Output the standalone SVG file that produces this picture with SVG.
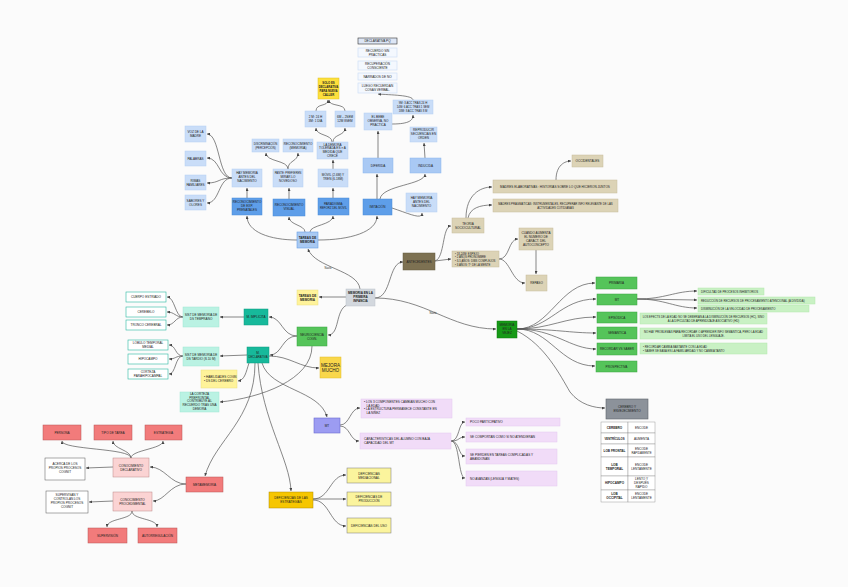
<svg xmlns="http://www.w3.org/2000/svg" width="848" height="587" viewBox="0 0 848 587">
<defs>
<marker id="ar" markerUnits="userSpaceOnUse" markerWidth="3" markerHeight="3" refX="3" refY="1.5" orient="auto"><path d="M0,0 L3,1.5 L0,3 z" fill="#444"/></marker>
<style>
text{font-family:"Liberation Sans",Arial,sans-serif;font-size:3.1px;fill:#222;text-anchor:middle}
.l{text-anchor:start}
.b{font-weight:bold}
.s{font-size:2.8px}
.lb{fill:#c9ddf8;stroke:#b4cff2;stroke-width:0.5}
.mb{fill:#a9c9f4;stroke:#8ab6ee;stroke-width:0.5}
.db{fill:#5e9ee9;stroke:#4a8ad8;stroke-width:0.5}
.wb{fill:#f4f8fe;stroke:#c8dbf5;stroke-width:0.6}
.tw{fill:#fff;stroke:#2bb8a2;stroke-width:0.6}
.tl{fill:#baf2e3;stroke:#9ee6d2;stroke-width:0.5}
.ts{fill:#17b99b;stroke:#0f9a80;stroke-width:0.5}
.gr{fill:#55c45a;stroke:#3aa540;stroke-width:0.5}
.lg{fill:#c9f1c4;stroke:#b2e8ad;stroke-width:0.5}
.be{fill:#dcd3b6;stroke:#c6bc9c;stroke-width:0.5}
.pu{fill:#f1dcf8;stroke:#e4c8f0;stroke-width:0.5}
.ye{fill:#fff39a;stroke:#eadf80;stroke-width:0.5}
.yd{fill:#fbf49d;stroke:#777;stroke-width:0.5}
.re{fill:#f27b7b;stroke:#b85555;stroke-width:0.5}
.pk{fill:#fbd3d3;stroke:#b88;stroke-width:0.5}
.wh{fill:#fff;stroke:#555;stroke-width:0.5}
.c path{fill:none;stroke:#555;stroke-width:0.7;marker-end:url(#ar)}
.tb{fill:#fff;stroke:#888;stroke-width:0.4}
</style>
</defs>
<rect width="848" height="587" fill="#fbfbfb"/>

<g id="connectors" class="c">
<path d="M297,240 C270,240 247,232 247,216"/>
<path d="M305,232 C305,225 289,225 289,217"/>
<path d="M310,232 C310,225 333,225 333,216"/>
<path d="M318,240 C350,240 377,232 377,216"/>
<path d="M247,198 L247,188"/>
<path d="M232,178 C218,178 220,134 207,134"/>
<path d="M232,178 C218,178 220,158 207,158"/>
<path d="M232,178 C218,178 220,183 207,183"/>
<path d="M232,178 C218,178 220,203 207,203"/>
<path d="M289,199 L289,188"/>
<path d="M288,169 C288,160 266,162 266,153"/>
<path d="M288,169 C288,160 298,162 298,153"/>
<path d="M333,198 L333,188"/>
<path d="M333,169 L333,160"/>
<path d="M332,142 C332,134 316,136 316,128"/>
<path d="M333,142 C333,134 345,136 345,128"/>
<path d="M316,111 C316,103 328,107 328,100"/>
<path d="M345,111 C345,103 329,107 329,100"/>
<path d="M377,199 L377,174"/>
<path d="M380,199 C382,185 425,185 425,174"/>
<path d="M392,208 C410,214 422,220 422,213"/>
<path d="M378,158 L378,131"/>
<path d="M392,124 C410,124 413,120 413,115"/>
<path d="M413,100 C413,95 390,95 378,94"/>
<path d="M425,158 L424,143"/>
<path d="M360,289 C358,270 315,268 308,249"/>
<path d="M346,297 L319,297"/>
<path d="M347,305 C335,310 340,335 328,335"/>
<path d="M375,298 C392,298 388,262 403,262"/>
<path d="M375,298 C425,298 450,329 496,329"/>
<path d="M435,261 C445,258 442,226 451,226"/>
<path d="M435,261 L451,259"/>
<path d="M466,218 C466,195 480,187 492,187"/>
<path d="M468,218 C470,208 480,205 492,205"/>
<path d="M556,180 C556,165 565,161 571,161"/>
<path d="M499,259 C510,259 508,239 518,239"/>
<path d="M499,259 C510,259 512,283 525,283"/>
<path d="M536,250 L536,274"/>
<path d="M517,329 C550,329 560,283 595,283"/>
<path d="M517,329 C550,329 560,299 596,299"/>
<path d="M517,329 C550,329 565,317 596,317"/>
<path d="M517,329 C555,329 570,333 596,333"/>
<path d="M517,329 C555,329 570,349 596,349"/>
<path d="M517,329 C550,329 560,366 595,366"/>
<path d="M517,331 C545,345 560,375 570,392 C580,405 595,408 605,408"/>
<path d="M637,299 C665,299 675,291 697,291"/>
<path d="M637,299 L697,300"/>
<path d="M637,299 C665,299 675,308 697,308"/>
<path d="M297,336 C282,336 282,317 269,317"/>
<path d="M297,336 C282,336 282,355 270,355"/>
<path d="M312,346 C312,380 260,398 220,402"/>
<path d="M244,317 L220,317"/>
<path d="M183,317 C175,317 175,297 167,297"/>
<path d="M183,317 C175,317 175,312 167,312"/>
<path d="M183,317 C175,317 175,325 167,325"/>
<path d="M247,355 L220,356"/>
<path d="M183,356 C175,356 176,345 169,345"/>
<path d="M183,356 C175,356 176,359 169,359"/>
<path d="M183,356 C175,356 176,374 169,374"/>
<path d="M249,363 C246,372 245,380 238,381"/>
<path d="M269,356 C290,356 300,368 319,368"/>
<path d="M262,363 C270,390 320,390 327,417"/>
<path d="M255,363 C255,420 215,440 205,476"/>
<path d="M258,363 C262,420 290,460 291,491"/>
<path d="M340,425 C350,425 350,408 360,408"/>
<path d="M340,426 C350,426 350,441 359,441"/>
<path d="M451,441 C460,441 458,422 465,422"/>
<path d="M451,441 C460,441 458,437 465,437"/>
<path d="M451,441 C460,441 458,456 465,456"/>
<path d="M451,441 C460,441 458,478 465,478"/>
<path d="M313,499 C330,499 330,475 346,475"/>
<path d="M313,499 L346,499"/>
<path d="M313,500 C330,500 330,526 346,526"/>
<path d="M186,484 C170,484 165,467 150,467"/>
<path d="M186,484 C170,484 165,501 153,501"/>
<path d="M113,467 L86,468"/>
<path d="M131,458 C131,448 62,450 62,441"/>
<path d="M131,458 C131,450 113,449 113,441"/>
<path d="M131,458 C131,450 163,449 163,441"/>
<path d="M113,501 L89,502"/>
<path d="M132,511 C132,520 107,518 107,527"/>
<path d="M132,511 C132,520 157,518 157,527"/>
</g>
<g id="conn-labels">
<text x="328" y="268.5" style="font-size:2.6px">Navío</text>
<text x="433" y="314" style="font-size:2.6px">Navío</text>
</g>

<g id="n-declpq"><rect x="358" y="38" width="39" height="6" fill="#dde6f5" stroke="#333" stroke-width="0.6"/><text x="377.5" y="42.1">DECLARATIVA PQ</text></g>
<g id="n-recsin"><rect class="wb" x="358" y="48" width="39" height="9"/><text x="377.5" y="51.6">RECUERDO SIN</text><text x="377.5" y="55.6">PRÁCTICAS</text></g>
<g id="n-recup"><rect class="wb" x="358" y="61" width="39" height="9"/><text x="377.5" y="64.6">RECUPERACIÓN</text><text x="377.5" y="68.6">CONSCIENTE</text></g>
<g id="n-narr"><rect class="wb" x="358" y="73" width="39" height="7"/><text x="377.5" y="77.6">NARRADOS DE NO</text></g>
<g id="n-luego"><rect class="wb" x="358" y="83" width="39" height="10"/><text x="377.5" y="87.1">LUEGO RECUERDAN</text><text x="377.5" y="91.1">COSAS VERBAL.</text></g>
<g id="n-solo"><rect x="318" y="78" width="21" height="21" fill="#fde03c" stroke="#e0c020" stroke-width="0.5"/><text class="b s" x="328.5" y="83.6">SOLO ES</text><text class="b s" x="328.5" y="87.6">DECLARATIVA</text><text class="b s" x="328.5" y="91.6">PARA NUEVA</text><text class="b s" x="328.5" y="95.6">CALLER</text></g>
<g id="n-2m"><rect class="lb" x="305" y="111" width="21" height="16"/><text x="315.5" y="118.1">2 M: 24 H</text><text x="315.5" y="122.1">3M: 1 DÍA</text></g>
<g id="n-6m"><rect class="lb" x="335" y="111" width="20" height="16"/><text x="345" y="118.1">6M – 2SEM</text><text x="345" y="122.1">12M 8SEM</text></g>
<g id="n-bebe"><rect class="lb" x="364" y="113" width="28" height="17"/><text x="378" y="117.6">EL BEBE</text><text x="378" y="121.6">OBSERVA, NO</text><text x="378" y="125.6">PRÁCTICA</text></g>
<g id="n-9m"><rect class="lb" x="393" y="100" width="40" height="14"/><text class="s" x="413" y="103.6">9M: 3 ACC TRAS 24 H</text><text class="s" x="413" y="107.6">14M: 6 ACC TRAS 1 SEM</text><text class="s" x="413" y="111.6">18M: 8 ACC TRAS 8 M</text></g>
<g id="n-reprod"><rect class="lb" x="410" y="127" width="27" height="15"/><text x="423.5" y="130.6">REPRODUCIR</text><text x="423.5" y="134.6">SECUENCIAS EN</text><text x="423.5" y="138.6">ORDEN</text></g>
<g id="n-discrim"><rect class="lb" x="252" y="139" width="27" height="13"/><text class="s" x="265.5" y="144.6">DISCRIMINACIÓN</text><text class="s" x="265.5" y="148.6">(PERCEPCIÓN)</text></g>
<g id="n-recmem"><rect class="lb" x="283" y="139" width="30" height="13"/><text x="298" y="144.6">RECONOCIMIENTO</text><text x="298" y="148.6">(MEMORIA)</text></g>
<g id="n-demora"><rect class="lb" x="317" y="142" width="31" height="17"/><text x="332.5" y="145.6">LA DEMORA</text><text x="332.5" y="149.4">TOLERADA ES &gt; A</text><text x="332.5" y="153.2">MEDIDA QUE</text><text x="332.5" y="157">CRECE</text></g>
<g id="n-haymem1"><rect class="lb" x="232" y="169" width="30" height="18"/><text x="247" y="174.1">HAY MEMORIA</text><text x="247" y="178.1">ANTES DEL</text><text x="247" y="182.1">NACIMIENTO</text></g>
<g id="n-pante"><rect class="lb" x="273" y="169" width="30" height="18"/><text class="s" x="288" y="174.1">PANTE: PREFIEREN</text><text x="288" y="178.1">MIRAR LO</text><text x="288" y="182.1">NOVEDOSO</text></g>
<g id="n-movil"><rect class="lb" x="318" y="169" width="30" height="18"/><text x="333" y="176.1">MÓVIL (2-6M) Y</text><text x="333" y="180.1">TREN (6-18M)</text></g>
<g id="n-diferida"><rect class="mb" x="363" y="158" width="30" height="15"/><text x="378" y="166.6">DIFERIDA</text></g>
<g id="n-inducida"><rect class="mb" x="410" y="158" width="31" height="15"/><text x="425.5" y="166.6">INDUCIDA</text></g>
<g id="n-recexp"><rect class="db" x="232" y="198" width="30" height="17"/><text x="247" y="202.6">RECONOCIMIENTO</text><text x="247" y="206.6">DE EXP.</text><text x="247" y="210.6">PRENATALES</text></g>
<g id="n-recvis"><rect class="db" x="273" y="199" width="32" height="17"/><text x="289" y="205.6">RECONOCIMIENTO</text><text x="289" y="209.6">VISUAL</text></g>
<g id="n-paradigma"><rect class="db" x="318" y="198" width="31" height="17"/><text x="333.5" y="204.6">PARADIGMA:</text><text class="s" x="333.5" y="208.6">REFORZ DEL MÓVIL</text></g>
<g id="n-imitacion"><rect class="db" x="363" y="199" width="29" height="16"/><text x="377.5" y="208.1">IMITACIÓN</text></g>
<g id="n-haymem2"><rect class="lb" x="406" y="193" width="31" height="19"/><text x="421.5" y="198.6">HAY MEMORIA</text><text x="421.5" y="202.6">ANTES DEL</text><text x="421.5" y="206.6">NACIMIENTO</text></g>
<g id="n-voz"><rect class="lb" x="185" y="126" width="21" height="16"/><text x="195.5" y="133.1">VOZ DE LA</text><text x="195.5" y="137.1">MADRE</text></g>
<g id="n-palabras"><rect class="lb" x="185" y="151" width="21" height="15"/><text x="195.5" y="159.6">PALABRAS</text></g>
<g id="n-rimas"><rect class="lb" x="185" y="175" width="21" height="15"/><text x="195.5" y="181.6">RIMAS</text><text x="195.5" y="185.6">FAMILIARES</text></g>
<g id="n-sabores"><rect class="lb" x="185" y="195" width="21" height="15"/><text x="195.5" y="201.6">SABORES Y</text><text x="195.5" y="205.6">OLORES</text></g>
<g id="n-tareas1"><rect x="297" y="232" width="21" height="16" fill="#a9c9f2" stroke="#6aa0e8" stroke-width="0.6"/><text class="b" x="307.5" y="239.1">TAREAS DE</text><text class="b" x="307.5" y="243.1">MEMORIA</text></g>

<g id="n-mpi"><rect x="346" y="289" width="29" height="17" fill="#d3d8de" stroke="#bcc2ca" stroke-width="0.5"/><text class="b" x="360.5" y="293.6">MEMORIA EN LA</text><text class="b" x="360.5" y="297.6">PRIMERA</text><text class="b" x="360.5" y="301.6">INFANCIA</text></g>
<g id="n-tareas2"><rect class="ye" x="297" y="290" width="21" height="15"/><text class="b" x="307.5" y="296.6">TAREAS DE</text><text class="b" x="307.5" y="300.6">MEMORIA</text></g>

<g id="n-antec"><rect x="403" y="253" width="32" height="17" fill="#7d7152" stroke="#655b40" stroke-width="0.5"/><text x="419" y="262.6">ANTECEDENTES</text></g>
<g id="n-occ"><rect class="be" x="572" y="155" width="31" height="12"/><text x="587.5" y="162.1">OCCIDENTALES</text></g>
<g id="n-melab"><rect class="be" x="493" y="180" width="124" height="13"/><text x="555" y="187.6">MADRES ELABORATIVAS : HISTORIAS SOBRE LO QUE HICIERON JUNTOS</text></g>
<g id="n-mprag"><rect class="be" x="493" y="199" width="125" height="13"/><text class="s" x="555.5" y="204.6">MADRES PRAGMÁTICAS: INSTRUMENTALES, RECUPERAR INFO RELEVANTE DE LAS</text><text class="s" x="555.5" y="208.6">ACTIVIDADES COTIDIANAS</text></g>
<g id="n-teoria"><rect class="be" x="452" y="218" width="32" height="15"/><text x="468" y="224.6">TEORÍA</text><text x="468" y="228.6">SOCIOCULTURAL</text></g>
<g id="n-list"><rect class="be" x="452" y="251" width="47" height="16"/><text class="l s" x="455" y="254.8">• 18-24M: ESPEJO</text><text class="l s" x="455" y="258.4">• 2 AÑOS:PRONOMBRE</text><text class="l s" x="455" y="262">• 3-5 AÑOS: DIBS COMPLEJOS</text><text class="l s" x="455" y="265.6">• 3 AÑOS: Tª DE LA MENTE</text></g>
<g id="n-cuando"><rect class="be" x="519" y="228" width="34" height="22"/><text x="536" y="233.6">CUANDO AUMENTA</text><text x="536" y="237.6">EL NÚMERO DE</text><text x="536" y="241.6">CARACT. DEL</text><text x="536" y="245.6">AUTOCONCEPTO</text></g>
<g id="n-repaso"><rect class="be" x="526" y="275" width="21" height="16"/><text x="536.5" y="284.1">REPASO</text></g>

<g id="n-vejez"><rect x="497" y="321" width="20" height="17" fill="#169a16" stroke="#0d7a0d" stroke-width="0.5"/><text x="507" y="325.6">MEMORIA</text><text x="507" y="329.6">EN LA</text><text x="507" y="333.6">VEJEZ</text></g>
<g id="n-primaria"><rect class="gr" x="596" y="277" width="41" height="12"/><text x="616.5" y="284.1">PRIMARIA</text></g>
<g id="n-mtv"><rect class="gr" x="597" y="294" width="40" height="11"/><text x="617" y="300.6">MT</text></g>
<g id="n-episodica"><rect class="gr" x="597" y="312" width="40" height="11"/><text x="617" y="318.6">EPISÓDICA</text></g>
<g id="n-semantica"><rect class="gr" x="597" y="327" width="40" height="12"/><text x="617" y="334.1">SEMÁNTICA</text></g>
<g id="n-recsab"><rect class="gr" x="597" y="343" width="40" height="12"/><text x="617" y="350.1">RECORDAR VS SABER</text></g>
<g id="n-prosp"><rect class="gr" x="596" y="361" width="41" height="11"/><text x="616.5" y="367.6">PROSPECTIVA</text></g>
<g id="n-dific"><rect class="lg" x="698" y="288" width="66" height="7"/><text class="l s" x="701" y="292.5">DIFICULTAD DE PROCESOS INHIBITORIOS</text></g>
<g id="n-reduc"><rect class="lg" x="698" y="297" width="117" height="7"/><text class="l s" x="701" y="301.5">REDUCCIÓN DE RECURSOS DE PROCESAMIENTO ATENCIONAL (A DIVIDIDA)</text></g>
<g id="n-dismin"><rect class="lg" x="698" y="305" width="111" height="7"/><text class="l s" x="701" y="309.5">DISMINUCIÓN DE LA VELOCIDAD DE PROCESAMIENTO</text></g>
<g id="n-efects"><rect class="lg" x="640" y="313" width="127" height="11"/><text class="s" x="703.5" y="317.6">LOS EFECTS DE LA EDAD NO SE DEBERIAN A LA DISMINUCIÓN DE RECURSOS (HC), SINO</text><text class="s" x="703.5" y="321.6">A LA DIFICULTAD DE APRENDIZAJE ASOCIATIVO (HD)</text></g>
<g id="n-nohay"><rect class="lg" x="640" y="328" width="127" height="11"/><text class="s" x="703.5" y="332.6">NO HAY PROBLEMAS PARA RECORDAR O APRENDER INFO SEMÁNTICA, PERO LA EDAD</text><text class="s" x="703.5" y="336.6">LIMITA EL USO DEL LENGUAJE.</text></g>
<g id="n-recbul"><rect class="lg" x="640" y="343" width="127" height="11"/><text class="l s" x="643" y="347.6">• RECORDAR CAMBIA BASTANTE CON LA EDAD</text><text class="l s" x="643" y="351.6">• SABER SE BASA EN LA FAMILIARIDAD Y NO CAMBIA TANTO</text></g>
<g id="n-cerebro"><rect x="606" y="399" width="42" height="20" fill="#8c929a" stroke="#5f646b" stroke-width="0.6"/><text x="627" y="408.1">CEREBRO Y</text><text x="627" y="412.1">ENVEJECIMIENTO</text></g>
<g id="n-tabla">
<rect class="tb" x="601" y="422" width="27" height="11"/><rect class="tb" x="628" y="422" width="27" height="11"/>
<rect class="tb" x="601" y="433" width="27" height="11"/><rect class="tb" x="628" y="433" width="27" height="11"/>
<rect class="tb" x="601" y="444" width="27" height="13"/><rect class="tb" x="628" y="444" width="27" height="13"/>
<rect class="tb" x="601" y="457" width="27" height="19"/><rect class="tb" x="628" y="457" width="27" height="19"/>
<rect class="tb" x="601" y="476" width="27" height="14"/><rect class="tb" x="628" y="476" width="27" height="14"/>
<rect class="tb" x="601" y="490" width="27" height="12"/><rect class="tb" x="628" y="490" width="27" height="12"/>
<text class="b" x="614.5" y="428.6">CEREBRO</text><text x="641.5" y="428.6">ENCODE</text>
<text class="b s" x="614.5" y="439.6">VENTRÍCULOS</text><text x="641.5" y="439.6">AUMENTA</text>
<text class="b" x="614.5" y="451.6">LOB FRONTAL</text><text x="641.5" y="449.6">ENCODE</text><text class="s" x="641.5" y="453.6">RÁPIDAMENTE</text>
<text class="b" x="614.5" y="465.6">LOB</text><text class="b" x="614.5" y="469.6">TEMPORAL</text><text x="641.5" y="465.6">ENCODE</text><text x="641.5" y="469.6">LENTAMENTE</text>
<text class="b" x="614.5" y="484.1">HIPOCAMPO</text><text x="641.5" y="480.1">LENTO Y</text><text x="641.5" y="484.1">DESPUÉS</text><text x="641.5" y="488.1">RÁPIDO</text>
<text class="b" x="614.5" y="495.1">LOB</text><text class="b" x="614.5" y="499.1">OCCIPITAL</text><text x="641.5" y="495.1">ENCODE</text><text x="641.5" y="499.1">LENTAMENTE</text>
</g>

<g id="n-cuerpo"><rect class="tw" x="126" y="292" width="40" height="10"/><text x="146" y="298.1">CUERPO ESTRIADO</text></g>
<g id="n-cerebelo"><rect class="tw" x="126" y="307" width="40" height="10"/><text x="146" y="313.1">CEREBELO</text></g>
<g id="n-tronco"><rect class="tw" x="126" y="320" width="40" height="10"/><text x="146" y="326.1">TRONCO CEREBRAL</text></g>
<g id="n-sistemp"><rect class="tl" x="183" y="307" width="36" height="20"/><text x="201" y="316.1">SIST DE MEMORIA DE</text><text x="201" y="320.1">DS TEMPRANO</text></g>
<g id="n-mimpl"><rect class="ts" x="244" y="309" width="24" height="16"/><text x="256" y="318.1">M. IMPLÍCITA</text></g>
<g id="n-neuro"><rect class="gr" x="297" y="327" width="30" height="19"/><text x="312" y="335.6">NEUROCIENCIA</text><text x="312" y="339.6">COGN.</text></g>
<g id="n-lobulo"><rect class="tw" x="128" y="340" width="40" height="10"/><text x="148" y="344.1">LÓBULO TEMPORAL</text><text x="148" y="348.1">MEDIAL</text></g>
<g id="n-hipo"><rect class="tw" x="128" y="354" width="40" height="10"/><text x="148" y="360.1">HIPOCAMPO</text></g>
<g id="n-parahipo"><rect class="tw" x="128" y="369" width="40" height="10"/><text x="148" y="373.1">CORTEZA</text><text x="148" y="377.1">PARAHIPOCAMPAL</text></g>
<g id="n-sistard"><rect class="tl" x="183" y="347" width="36" height="19"/><text x="201" y="355.6">SIST DE MEMORIA DE</text><text x="201" y="359.6">DS TARDÍO (8-10 M)</text></g>
<g id="n-mdecl"><rect class="ts" x="247" y="347" width="22" height="16"/><text x="258" y="354.1">M.</text><text class="s" x="258" y="358.1">DECLARATIVA</text></g>
<g id="n-habil"><rect class="ye" x="201" y="370" width="36" height="18"/><text class="l" x="204" y="378.1">• HABILIDADES COGN</text><text class="l" x="204" y="382.1">• DS DEL CEREBRO</text></g>
<g id="n-corteza"><rect class="tl" x="180" y="392" width="39" height="20"/><text x="199.5" y="395.2">LA CORTEZA</text><text x="199.5" y="398.8">PREFRONTAL</text><text x="199.5" y="402.4">CONTRIBUYE AL</text><text x="199.5" y="406">RECUERDO TRAS UNA</text><text x="199.5" y="409.6">DEMORA</text></g>
<g id="n-mejora"><rect x="320" y="357" width="21" height="21" fill="#f9d74a" stroke="#e2bd2a" stroke-width="0.5"/><text x="330.5" y="366.5" style="font-size:4.6px">MEJORA</text><text x="330.5" y="371.8" style="font-size:4.6px">MUCHO</text></g>

<g id="n-mt"><rect x="314" y="418" width="26" height="15" fill="#9c9cf2" stroke="#6b6bd0" stroke-width="0.6"/><text x="327" y="426.6">MT</text></g>
<g id="n-los3"><rect class="pu" x="361" y="399" width="91" height="19"/><text class="l" x="364" y="403.2">• LOS 3 COMPONENTES CAMBIAN MUCHO CON</text><text class="l" x="366.5" y="406.8">LA EDAD</text><text class="l" x="364" y="410.4">• LA ESTRUCTURA PERMANECE CONSTANTE EN</text><text class="l" x="366.5" y="414">LA NIÑEZ</text></g>
<g id="n-caract"><rect class="pu" x="360" y="433" width="91" height="16"/><text class="l" x="364" y="439.6">CARACTERÍSTICAS DEL ALUMNO CON BAJA</text><text class="l" x="364" y="443.6">CAPACIDAD DEL MT</text></g>
<g id="n-poco"><rect class="pu" x="466" y="418" width="94" height="8"/><text class="l" x="470" y="423.1">POCO PARTICIPATIVO</text></g>
<g id="n-secomp"><rect class="pu" x="466" y="432" width="91" height="10"/><text class="l" x="470" y="438.1">SE COMPORTAN COMO SI NO ATENDIERAN</text></g>
<g id="n-sepierd"><rect class="pu" x="466" y="449" width="91" height="15"/><text class="l" x="470" y="455.6">SE PIERDEN EN TAREAS COMPLICADAS Y</text><text class="l" x="470" y="459.6">ABANDONAN</text></g>
<g id="n-noav"><rect class="pu" x="466" y="471" width="91" height="15"/><text class="l" x="470" y="479.6">NO AVANZAN  (LENGUA Y MATES)</text></g>

<g id="n-defest"><rect x="269" y="492" width="44" height="16" fill="#f6c600" stroke="#b08a00" stroke-width="0.5"/><text x="291" y="499.1">DEFICIENCIAS DE LAS</text><text x="291" y="503.1">ESTRATEGIAS</text></g>
<g id="n-defmed"><rect class="yd" x="347" y="468" width="44" height="15"/><text x="369" y="474.6">DEFICIENCIAS</text><text x="369" y="478.6">MEDIACIONAL</text></g>
<g id="n-defprod"><rect class="yd" x="347" y="492" width="44" height="14"/><text x="369" y="498.1">DEFICIENCIAS DE</text><text x="369" y="502.1">PRODUCCIÓN</text></g>
<g id="n-defuso"><rect class="yd" x="347" y="518" width="44" height="15"/><text x="369" y="526.6">DEFICIENCIAS DEL USO</text></g>

<g id="n-persona"><rect class="re" x="43" y="425" width="38" height="15"/><text x="62" y="433.6">PERSONA</text></g>
<g id="n-tipo"><rect class="re" x="94" y="425" width="38" height="15"/><text x="113" y="433.6">TIPO DE TAREA</text></g>
<g id="n-estrat"><rect class="re" x="145" y="425" width="37" height="15"/><text x="163.5" y="433.6">ESTRATEGIA</text></g>
<g id="n-acerca"><rect class="wh" x="45" y="458" width="40" height="22"/><text x="65" y="465.1">ACERCA DE LOS</text><text x="65" y="469.1">PROPIOS PROCESOS</text><text x="65" y="473.1">COGNIT</text></g>
<g id="n-cdecl"><rect class="pk" x="113" y="458" width="36" height="19"/><text x="131" y="466.6">CONOCIMIENTO</text><text x="131" y="470.6">DECLARATIVO</text></g>
<g id="n-meta"><rect class="re" x="186" y="477" width="37" height="15"/><text x="204.5" y="485.6">METAMEMORIA</text></g>
<g id="n-superv"><rect class="wh" x="46" y="491" width="42" height="22"/><text x="67" y="496.1">SUPERVISAN Y</text><text x="67" y="500.1">CONTROLAN LOS</text><text x="67" y="504.1">PROPIOS PROCESOS</text><text x="67" y="508.1">COGNIT</text></g>
<g id="n-cproc"><rect class="pk" x="113" y="492" width="39" height="19"/><text x="132.5" y="500.6">CONOCIMIENTO</text><text x="132.5" y="504.6">PROCEDIMENTAL</text></g>
<g id="n-supervision"><rect class="re" x="88" y="528" width="39" height="15"/><text x="107.5" y="536.6">SUPERVISIÓN</text></g>
<g id="n-autorreg"><rect class="re" x="138" y="528" width="39" height="15"/><text x="157.5" y="536.6">AUTORREGULACIÓN</text></g>
</svg>
